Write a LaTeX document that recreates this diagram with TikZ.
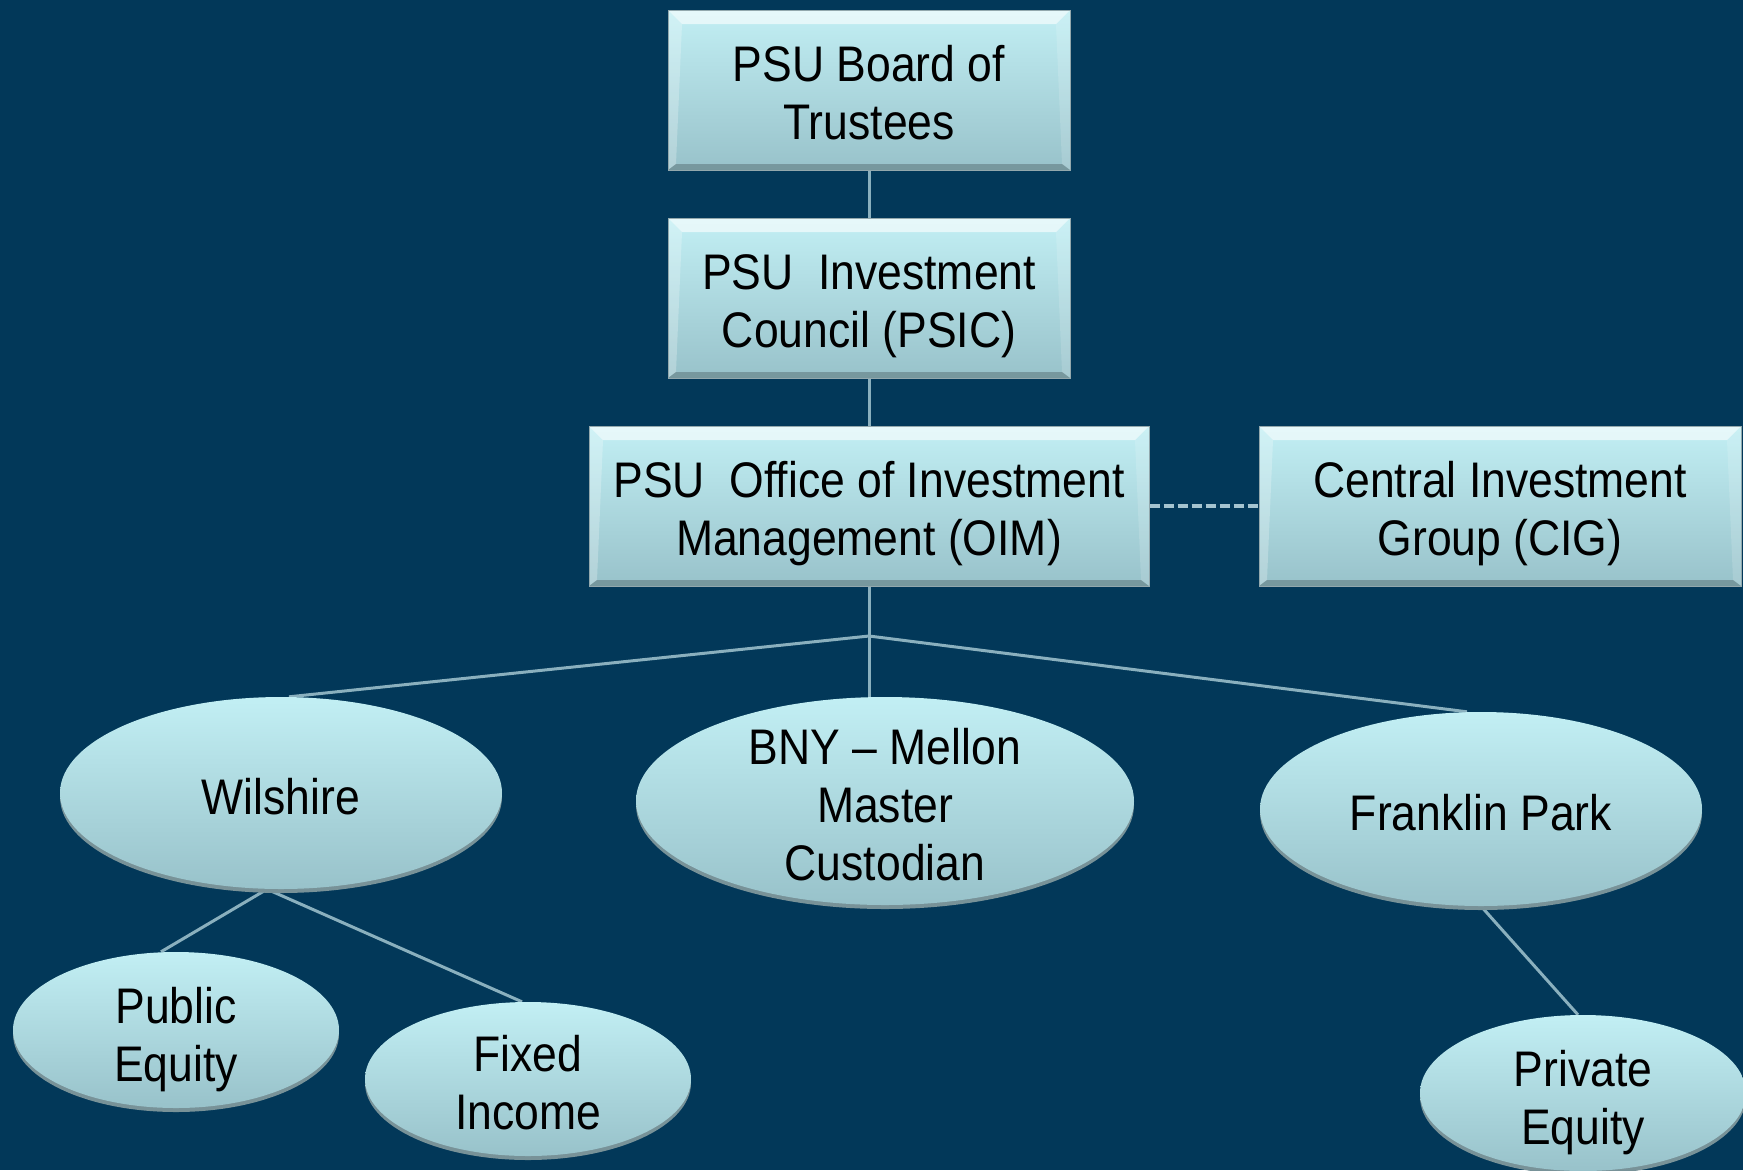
\documentclass[tikz,border=0pt]{standalone}
\usepackage{fontspec}
\setmainfont{Liberation Sans}[FakeStretch=0.89]
\usetikzlibrary{shapes.geometric,backgrounds,calc}

\definecolor{navy}{RGB}{2,56,89}
\definecolor{paletop}{RGB}{194,239,244}
\definecolor{palebot}{RGB}{152,194,202}
\definecolor{wire}{RGB}{138,176,190}
\definecolor{dotwire}{RGB}{165,196,208}
\definecolor{rim}{RGB}{120,146,152}

\newcommand\orgfont{\fontsize{50bp}{58bp}\selectfont}

\tikzset{
  x=1bp, y=-1bp,
  orgbox/.style={rectangle, top color=paletop, bottom color=palebot,
    draw=rim!80!white, line width=1bp, inner sep=0pt,
    path picture={
      \fill[white, opacity=0.6]
        (path picture bounding box.north west) -- (path picture bounding box.north east)
        -- ([xshift=-14bp, yshift=-14bp]path picture bounding box.north east)
        -- ([xshift=14bp, yshift=-14bp]path picture bounding box.north west) -- cycle;
      \fill[white, opacity=0.25]
        (path picture bounding box.north west) -- ([xshift=14bp, yshift=-14bp]path picture bounding box.north west)
        -- ([xshift=8bp, yshift=6bp]path picture bounding box.south west)
        -- (path picture bounding box.south west) -- cycle;
      \fill[white, opacity=0.15]
        (path picture bounding box.north east) -- ([xshift=-14bp, yshift=-14bp]path picture bounding box.north east)
        -- ([xshift=-8bp, yshift=6bp]path picture bounding box.south east)
        -- (path picture bounding box.south east) -- cycle;
      \fill[black, opacity=0.22]
        (path picture bounding box.south west) -- (path picture bounding box.south east)
        -- ([xshift=-8bp, yshift=6bp]path picture bounding box.south east)
        -- ([xshift=8bp, yshift=6bp]path picture bounding box.south west) -- cycle;
    }},
  leaf/.style={ellipse, top color=paletop, bottom color=palebot, draw=none, inner sep=0pt},
  leafrim/.style={fill=rim},
  orgtext/.style={align=center, font=\orgfont, text=black, inner sep=0pt},
  wireline/.style={draw=wire, line width=3bp},
  dotline/.style={draw=dotwire, line width=4bp, dash pattern=on 10bp off 4bp}
}

\begin{document}
\begin{tikzpicture}
  \useasboundingbox (0,0) rectangle (1743,1170);

  % governing boxes
  \foreach \n/\x/\y/\w/\dy/\t in {
      board/869/90/402/3/{PSU Board of\\Trustees},
      psic/869/298/402/8/{PSU\ \ Investment\\Council (PSIC)},
      oim/869/506/560/8/{PSU\ \ Office of Investment\\Management (OIM)},
      cig/1500/506/482/8/{Central Investment\\Group (CIG)}}{
    \node[orgbox, minimum width={\w*1bp}, minimum height=160bp] (\n) at (\x,\y) {};
    \node[orgtext] (\n-t) at (\x,\y+\dy) {\t};
  }

  % managers and sub-mandates
  \foreach \n/\x/\y/\rx/\ry/\dy/\t in {
      wil/281/793/221/96/4/{Wilshire},
      bny/885/801/249/104/4/{BNY -- Mellon\\Master\\Custodian},
      frank/1481/809/221/97/4/{Franklin Park},
      pub/176/1030/163/78/10/{Public\\Equity},
      fix/528/1079/163/77/4/{Fixed\\Income},
      priv/1583/1093/163/78/10/{Private\\Equity}}{
    \fill[leafrim] (\x,\y+4) ellipse[x radius=\rx, y radius=\ry];
    \node[leaf, minimum width={2*\rx*1bp}, minimum height={2*\ry*1bp}] (\n) at (\x,\y) {};
    \node[orgtext] (\n-t) at (\x,\y+\dy) {\t};
  }

  \coordinate (J) at (oim.south |- 0,636);

  \begin{scope}[on background layer]
    \fill[navy] (0,0) rectangle (1743,1170);
    \draw[wireline] (board.south) -- (psic.north);
    \draw[wireline] (psic.south) -- (oim.north);
    \draw[wireline] (oim.south) -- (J);
    \draw[wireline] (J) -- (J |- bny.north);
    \draw[wireline] (J) -- ([xshift=8bp]wil.north);
    \draw[wireline] (J) -- ([xshift=-14bp]frank.north);
    \draw[wireline] ([xshift=-14bp]wil.south) -- ([xshift=-15bp]pub.north);
    \draw[wireline] ([xshift=-14bp]wil.south) -- ([xshift=-6bp]fix.north);
    \draw[wireline] (frank.south) -- ([xshift=-5bp]priv.north);
    \draw[dotline] (oim.east) -- (cig.west);
  \end{scope}
\end{tikzpicture}
\end{document}
